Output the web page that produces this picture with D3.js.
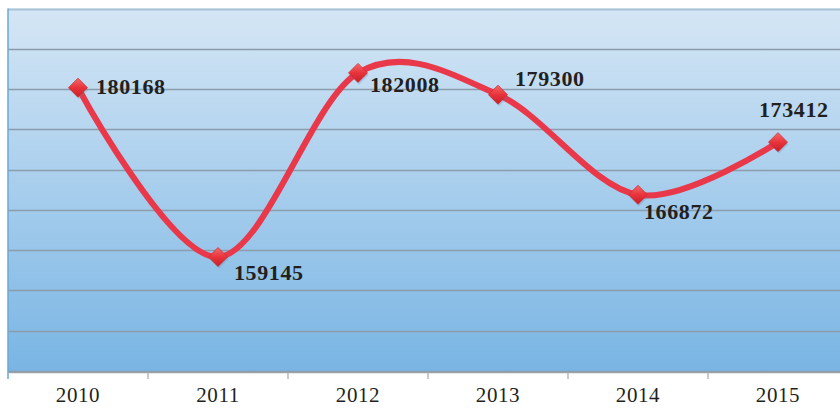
<!DOCTYPE html>
<html>
<head>
<meta charset="utf-8">
<script src="https://cdn.jsdelivr.net/npm/d3@7"></script>
<style>
  body { margin: 0; background: #fff; }
  svg { display: block; }
</style>
</head>
<body>
<div id="vis"></div>
<script>
const FRAME_WIDTH = 840;
const FRAME_HEIGHT = 408;
const PLOT = {left: 8, right: 848, top: 8.5, bottom: 371};

// data
const years = ["2010", "2011", "2012", "2013", "2014", "2015"];
const values = [180168, 159145, 182008, 179300, 166872, 173412];
const yTicks = [145000, 150000, 155000, 160000, 165000, 170000, 175000, 180000, 185000, 190000];
// label offsets relative to the point (dx, dy of baseline)
const labelPos = [[18, 6], [16, 23], [12, 19], [17, -9], [6, 24], [-19, -25]];

const svg = d3.select("#vis")
  .append("svg")
    .attr("width", FRAME_WIDTH)
    .attr("height", FRAME_HEIGHT);

const defs = svg.append("defs");

// background gradient of the plot area
const bg = defs.append("linearGradient")
    .attr("id", "bg")
    .attr("x1", 0).attr("y1", 0).attr("x2", 0).attr("y2", 1);
bg.append("stop").attr("offset", "0%").attr("stop-color", "#d5e6f5");
bg.append("stop").attr("offset", "100%").attr("stop-color", "#79b5e4");

// marker shading
const mk = defs.append("linearGradient")
    .attr("id", "mk")
    .attr("x1", 0).attr("y1", 0).attr("x2", 0).attr("y2", 1);
mk.append("stop").attr("offset", "0%").attr("stop-color", "#f46a6a");
mk.append("stop").attr("offset", "50%").attr("stop-color", "#e8343c");
mk.append("stop").attr("offset", "100%").attr("stop-color", "#c81e28");

const X_SCALE = d3.scaleBand()
  .domain(years)
  .range([PLOT.left, PLOT.right]);

const Y_SCALE = d3.scaleLinear()
  .domain([145000, 190000])
  .range([PLOT.bottom, PLOT.top]);

const cx = (d, i) => X_SCALE(years[i]) + X_SCALE.bandwidth() / 2;

// plot background
svg.append("rect")
    .attr("x", PLOT.left)
    .attr("y", PLOT.top)
    .attr("width", PLOT.right - PLOT.left)
    .attr("height", PLOT.bottom - PLOT.top)
    .attr("fill", "url(#bg)");

// gridlines
svg.selectAll(".grid")
  .data(yTicks)
  .enter()
  .append("line")
    .attr("x1", PLOT.left)
    .attr("x2", PLOT.right)
    .attr("y1", (d) => Math.round(Y_SCALE(d)) + 0.5)
    .attr("y2", (d) => Math.round(Y_SCALE(d)) + 0.5)
    .attr("stroke", (d) => d === 190000 ? "#a9c3d6" : "#8b9cab")
    .attr("stroke-width", (d) => d === 190000 ? 2 : 1.5);

// left axis line
svg.append("line")
    .attr("x1", PLOT.left).attr("x2", PLOT.left)
    .attr("y1", PLOT.top).attr("y2", PLOT.bottom + 8)
    .attr("stroke", "#6aa8d6")
    .attr("stroke-width", 1.5);

// bottom axis
const xAxis = svg.append("g")
    .attr("transform", "translate(0," + (PLOT.bottom + 1) + ")")
    .call(d3.axisBottom(X_SCALE).tickSize(0).tickPadding(15));
xAxis.select(".domain")
    .attr("stroke", "#9aa2a8")
    .attr("stroke-width", 1.5);
xAxis.selectAll("text")
    .attr("font-family", "Liberation Serif, serif")
    .attr("font-size", "21px")
    .attr("letter-spacing", "0.6px")
    .attr("fill", "#231f20");

// tick marks between categories
svg.selectAll(".tick-sep")
  .data(years.slice(1))
  .enter()
  .append("line")
    .attr("x1", (d) => X_SCALE(d))
    .attr("x2", (d) => X_SCALE(d))
    .attr("y1", PLOT.bottom + 1)
    .attr("y2", PLOT.bottom + 8)
    .attr("stroke", "#a6abb0")
    .attr("stroke-width", 1.2);

// smoothed line
const line = d3.line()
  .x(cx)
  .y((d) => Y_SCALE(d))
  .curve(d3.curveCardinal.tension(0));

svg.append("path")
    .datum(values)
    .attr("d", line)
    .attr("fill", "none")
    .attr("stroke", "#e8384a")
    .attr("stroke-width", 6)
    .attr("stroke-linecap", "round");

// diamond markers
const r = 9.5;
const diamond = "M0," + (-r) + "L" + r + ",0L0," + r + "L" + (-r) + ",0Z";
svg.selectAll(".shadow")
  .data(values)
  .enter()
  .append("path")
    .attr("d", diamond)
    .attr("transform", (d, i) => "translate(" + (cx(d, i) + 1) + "," + (Y_SCALE(d) + 2) + ")")
    .attr("fill", "#5a7f9e")
    .attr("opacity", 0.25);
svg.selectAll(".marker")
  .data(values)
  .enter()
  .append("path")
    .attr("d", diamond)
    .attr("transform", (d, i) => "translate(" + cx(d, i) + "," + Y_SCALE(d) + ")")
    .attr("fill", "url(#mk)")
    .attr("stroke", "#d02a34")
    .attr("stroke-width", 0.8);

// data labels
svg.selectAll(".label")
  .data(values)
  .enter()
  .append("text")
    .attr("x", (d, i) => cx(d, i) + labelPos[i][0])
    .attr("y", (d, i) => Y_SCALE(d) + labelPos[i][1])
    .attr("font-family", "Liberation Serif, serif")
    .attr("font-weight", "bold")
    .attr("font-size", "22px")
    .attr("letter-spacing", "0.6px")
    .attr("fill", "#231f20")
    .text((d) => d);
</script>
</body>
</html>
